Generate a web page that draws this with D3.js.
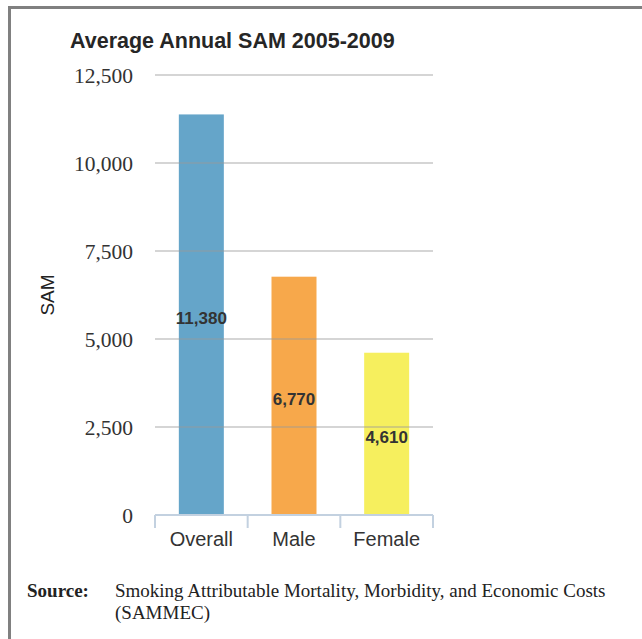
<!DOCTYPE html>
<html>
<head>
<meta charset="utf-8">
<script src="https://cdn.jsdelivr.net/npm/d3@7"></script>
<style>
  body { margin: 0; background: #fff; }
  svg { display: block; }
</style>
</head>
<body>
<script>
var categories = ["Overall", "Male", "Female"];
var values = [11380, 6770, 4610];
var barColors = ["#65a5c9", "#f7a84b", "#f6ef5e"];
var tickValues = [0, 2500, 5000, 7500, 10000, 12500];

var width = 642,
    height = 639;

var svg = d3.select("body")
    .append("svg")
    .attr("width", width)
    .attr("height", height);

// frame (top and left edges only)
svg.append("rect").attr("x", 8).attr("y", 6).attr("width", 634).attr("height", 3).attr("fill", "#808080");
svg.append("rect").attr("x", 8).attr("y", 6).attr("width", 3).attr("height", 633).attr("fill", "#808080");

svg.append("text")
    .attr("x", 70)
    .attr("y", 48)
    .style("font-family", "Liberation Sans, Arial, sans-serif")
    .style("font-weight", "bold")
    .style("font-size", "21.5px")
    .attr("fill", "#262626")
    .text("Average Annual SAM 2005-2009");

var x = d3.scaleBand()
    .domain(categories)
    .range([155, 433])
    .paddingInner(0)
    .paddingOuter(0);

var y = d3.scaleLinear()
    .domain([0, 12500])
    .range([515, 75]);

// bars
svg.append("g")
    .selectAll("rect")
    .data(values)
    .enter().append("rect")
    .attr("x", function(d, i) { return x(categories[i]) + (x.bandwidth() - 45) / 2; })
    .attr("width", 45)
    .attr("y", function(d) { return y(d); })
    .attr("height", function(d) { return y(0) - y(d); })
    .attr("fill", function(d, i) { return barColors[i]; });

// gridlines drawn over bars, semi transparent
svg.append("g")
    .selectAll("line")
    .data(tickValues.slice(1))
    .enter().append("line")
    .attr("x1", 155)
    .attr("x2", 433)
    .attr("y1", function(d) { return y(d); })
    .attr("y2", function(d) { return y(d); })
    .attr("stroke", "#999")
    .attr("stroke-opacity", 0.55)
    .attr("stroke-width", 1.5);

// y tick labels
svg.append("g")
    .selectAll("text")
    .data(tickValues)
    .enter().append("text")
    .attr("x", 133)
    .attr("y", function(d) { return y(d); })
    .attr("dy", "0.35em")
    .attr("text-anchor", "end")
    .style("font-family", "Liberation Serif, Times New Roman, serif")
    .style("font-size", "21.5px")
    .attr("fill", "#333")
    .text(function(d) { return d3.format(",")(d); });

// x axis
var xAxis = svg.append("g")
    .attr("transform", "translate(0," + y(0) + ")");
xAxis.append("line")
    .attr("x1", 155).attr("x2", 433)
    .attr("stroke", "#c3d1e0").attr("stroke-width", 2);
xAxis.selectAll(".tick")
    .data([155, 155 + x.bandwidth(), 155 + 2 * x.bandwidth(), 433])
    .enter().append("line")
    .attr("x1", function(d) { return d; })
    .attr("x2", function(d) { return d; })
    .attr("y1", 0).attr("y2", 13)
    .attr("stroke", "#c3d1e0").attr("stroke-width", 2);
xAxis.selectAll("text")
    .data(categories)
    .enter().append("text")
    .attr("x", function(d) { return x(d) + x.bandwidth() / 2; })
    .attr("y", 31)
    .attr("text-anchor", "middle")
    .style("font-family", "Liberation Sans, Arial, sans-serif")
    .style("font-size", "20px")
    .attr("fill", "#333")
    .text(function(d) { return d; });

// value labels
svg.append("g")
    .selectAll("text")
    .data(values)
    .enter().append("text")
    .attr("x", function(d, i) { return x(categories[i]) + x.bandwidth() / 2; })
    .attr("y", function(d) { return (y(d) + y(0)) / 2 + 3; })
    .attr("dy", "0.35em")
    .attr("text-anchor", "middle")
    .style("font-family", "Liberation Sans, Arial, sans-serif")
    .style("font-weight", "bold")
    .style("font-size", "17px")
    .attr("fill", "#333")
    .text(function(d) { return d3.format(",")(d); });

// y axis title
svg.append("text")
    .attr("transform", "translate(54,295) rotate(-90)")
    .attr("text-anchor", "middle")
    .style("font-family", "Liberation Sans, Arial, sans-serif")
    .style("font-size", "19px")
    .attr("fill", "#222")
    .text("SAM");

// source note
var note = svg.append("text")
    .attr("y", 597)
    .style("font-family", "Liberation Serif, Times New Roman, serif")
    .style("font-size", "19px")
    .attr("fill", "#222");
note.append("tspan").attr("x", 27).style("font-weight", "bold").text("Source:");
note.append("tspan").attr("x", 115).text("Smoking Attributable Mortality, Morbidity, and Economic Costs");
note.append("tspan").attr("x", 115).attr("dy", 22).text("(SAMMEC)");
</script>
</body>
</html>
